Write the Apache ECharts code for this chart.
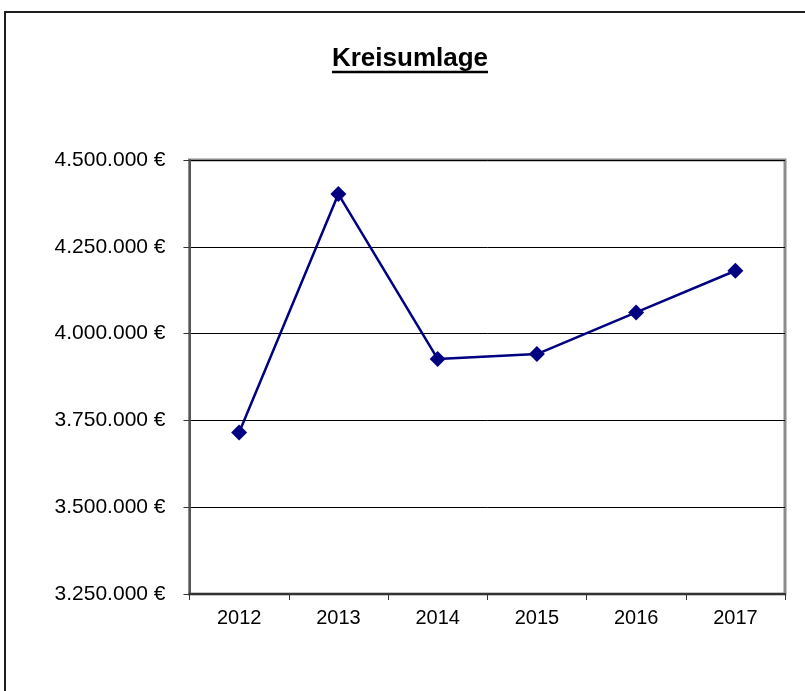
<!DOCTYPE html>
<html>
<head>
<meta charset="utf-8">
<script src="https://cdn.jsdelivr.net/npm/echarts@6/dist/echarts.min.js"></script>
<style>
  html, body { margin: 0; padding: 0; background: #fff; }
  #chart { width: 805px; height: 691px; }
</style>
</head>
<body>
<div id="chart"></div>
<script>
// Kreisumlage per year (EUR)
const years = ['2012', '2013', '2014', '2015', '2016', '2017'];
const kreisumlage = [3715000, 4402000, 3927000, 3941000, 4061000, 4181000];
const titleText = 'Kreisumlage';
const yMin = 3250000;
const yMax = 4500000;
const yStep = 250000;

const FONT = '"Liberation Sans", Arial, sans-serif';

function formatEuro(v) {
  const s = Math.round(v).toString().replace(/\B(?=(\d{3})+(?!\d))/g, '.');
  return s + ' \u20AC';
}

// width of the title for its underline
const titleFont = 'bold 26px ' + FONT;
const ctx = document.createElement('canvas').getContext('2d');
ctx.font = titleFont;
const titleW = ctx.measureText(titleText).width;
const titleX = 410;

const chart = echarts.init(document.getElementById('chart'), null, { renderer: 'canvas' });
chart.setOption({
  backgroundColor: '#ffffff',
  animation: false,
  grid: {
    left: 189.5, top: 160, right: 20, bottom: 97,
    show: true, borderColor: '#8c8c8c', borderWidth: 3, backgroundColor: 'transparent'
  },
  graphic: [
    { type: 'rect', shape: { x: 5, y: 12, width: 830, height: 720 },
      style: { fill: 'none', stroke: '#1e1e1e', lineWidth: 2 }, silent: true, z: 0 },
    { type: 'text', x: titleX, y: 59,
      style: { text: titleText, font: titleFont, fill: '#000', textAlign: 'center', textVerticalAlign: 'middle' } },
    { type: 'line', shape: { x1: titleX - titleW / 2, y1: 72, x2: titleX + titleW / 2, y2: 72 },
      style: { stroke: '#000', lineWidth: 2.5 } }
  ],
  xAxis: {
    type: 'category',
    data: years,
    boundaryGap: true,
    axisLine: { show: true, lineStyle: { color: '#333', width: 2 } },
    axisTick: { show: true, alignWithLabel: false, length: 6, inside: false, lineStyle: { color: '#333', width: 1 } },
    axisLabel: { color: '#000', fontFamily: FONT, fontSize: 20, margin: 14 },
    splitLine: { show: false }
  },
  yAxis: {
    type: 'value',
    min: yMin, max: yMax, interval: yStep,
    axisLine: { show: true, lineStyle: { color: '#555', width: 2 } },
    axisTick: { show: true, length: 6, inside: false, lineStyle: { color: '#333', width: 1 } },
    axisLabel: { color: '#000', fontFamily: FONT, fontSize: 21, margin: 24, formatter: formatEuro },
    splitLine: { show: true, lineStyle: { color: '#000', width: 1 } }
  },
  series: [{
    type: 'line',
    data: kreisumlage,
    symbol: 'diamond',
    symbolSize: 16,
    showAllSymbol: true,
    lineStyle: { color: '#000080', width: 2.5 },
    itemStyle: { color: '#000080' },
    z: 5
  }]
});
</script>
</body>
</html>
